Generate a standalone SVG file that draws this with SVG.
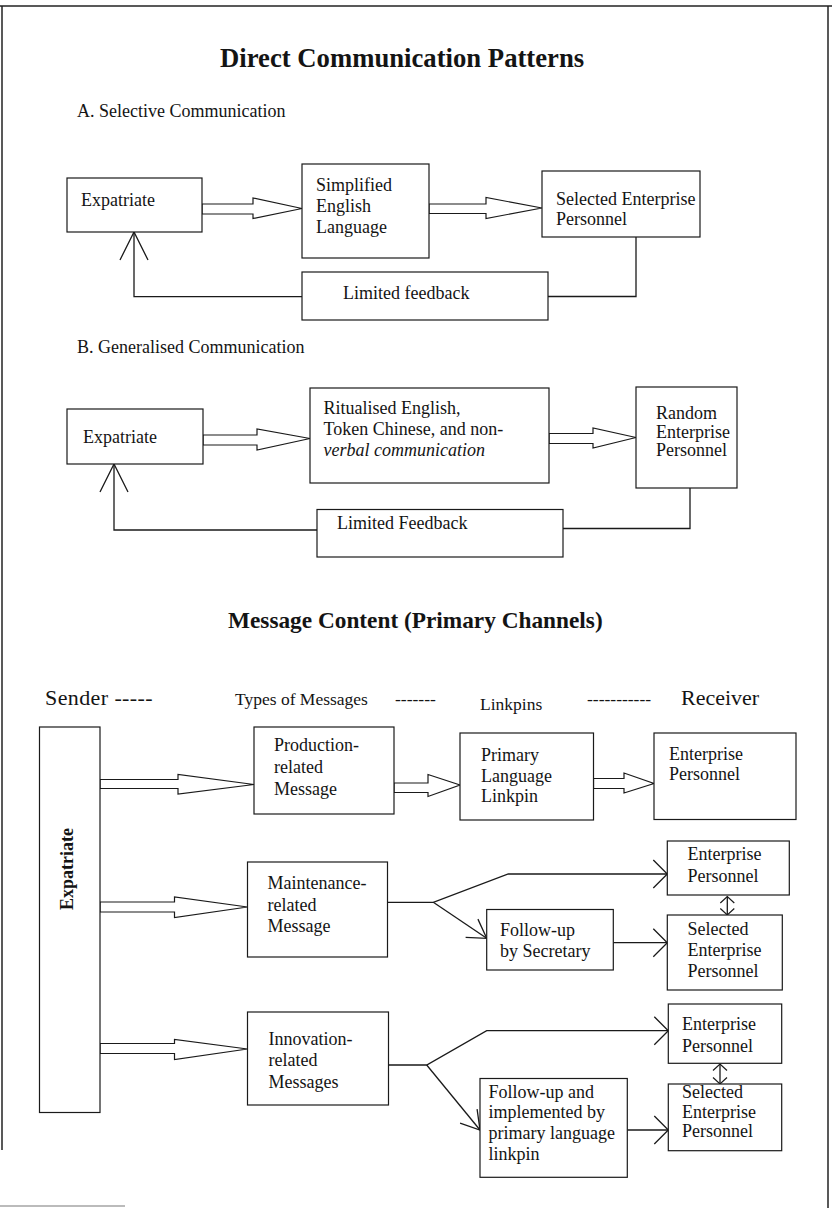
<svg xmlns="http://www.w3.org/2000/svg" width="832" height="1208" viewBox="0 0 832 1208">
<style>
  text { font-family: "Liberation Serif", "Times New Roman", serif; fill: #141414; }
  .t { font-size: 18px; }
  .h { font-size: 17.5px; }
  .big { font-size: 22px; }
  .title { font-weight: bold; }
  .box { fill: #fff; stroke: #1a1a1a; stroke-width: 1.2; }
  .blk { fill: #fff; stroke: #1a1a1a; stroke-width: 1.2; stroke-linejoin: miter; }
  .ln { fill: none; stroke: #1a1a1a; stroke-width: 1.3; }
  .frame { fill: none; stroke: #222; stroke-width: 1.5; }
</style>
<defs>
  <marker id="vh" viewBox="-32 -16 34 32" markerWidth="34" markerHeight="32" refX="0" refY="0" orient="auto" markerUnits="userSpaceOnUse">
    <path d="M-14,-14 L0,0 L-14,14" fill="none" stroke="#1a1a1a" stroke-width="1.3"/>
  </marker>
  <marker id="vn" viewBox="-32 -16 34 32" markerWidth="34" markerHeight="32" refX="0" refY="0" orient="auto" markerUnits="userSpaceOnUse">
    <path d="M-18,-11 L0,0 L-18,11" fill="none" stroke="#1a1a1a" stroke-width="1.3"/>
  </marker>
  <marker id="vl" viewBox="-32 -16 34 32" markerWidth="34" markerHeight="32" refX="0" refY="0" orient="auto" markerUnits="userSpaceOnUse">
    <path d="M-28,-14 L0,0 L-28,14" fill="none" stroke="#1a1a1a" stroke-width="1.3"/>
  </marker>
  <marker id="vs" viewBox="-10 -10 12 20" markerWidth="12" markerHeight="20" refX="0" refY="0" orient="auto-start-reverse" markerUnits="userSpaceOnUse">
    <path d="M-6.5,-7 L0,0 L-6.5,7" fill="none" stroke="#1a1a1a" stroke-width="1.2"/>
  </marker>
</defs>

<!-- page frame -->
<g id="frame">
  <path class="frame" d="M0,6 H832"/>
  <path class="frame" d="M2,6 V1150"/>
  <path class="frame" d="M828,6 V1208"/>
  <path d="M0,1206 H125" stroke="#bbb" stroke-width="2"/>
</g>

<!-- headings -->
<g id="headings">
  <text class="title" x="220" y="67" font-size="26.7">Direct Communication Patterns</text>
  <text class="t" x="77" y="117">A.  Selective Communication</text>
  <text class="t" x="77" y="353">B.  Generalised Communication</text>
  <text class="title" x="228" y="628" font-size="23.3">Message Content (Primary Channels)</text>
  <text class="big" x="45" y="705" letter-spacing="0.4">Sender -----</text>
  <text class="h" x="235" y="705">Types of Messages</text>
  <text class="h" x="395" y="705">-------</text>
  <text class="h" x="480" y="710">Linkpins</text>
  <text class="h" x="587" y="705">-----------</text>
  <text class="big" x="681" y="705">Receiver</text>
</g>

<!-- connectors -->
<g id="connectors">
  <!-- A -->
  <polygon class="blk" points="202,204 253,204 253,198 302,208.5 253,218.5 253,214 202,214"/>
  <polygon class="blk" points="429,204 486,204 486,197.5 542,208 486,218.5 486,213.5 429,213.5"/>
  <path class="ln" d="M636,237 V296.5 H548"/>
  <path class="ln" d="M302,296.7 H134 V232" marker-end="url(#vl)"/>
  <!-- B -->
  <polygon class="blk" points="203,435 257,435 257,429 310,438.5 257,450 257,445 203,445"/>
  <polygon class="blk" points="549,433.5 593,433.5 593,428 636,437.5 593,448 593,443.5 549,443.5"/>
  <path class="ln" d="M690,488 V528.5 H563"/>
  <path class="ln" d="M317,530 H114 V464" marker-end="url(#vl)"/>
  <!-- C -->
  <polygon class="blk" points="100,779.5 178,779.5 178,774.5 254,784.5 178,794 178,788.5 100,788.5"/>
  <polygon class="blk" points="394,783 428,783 428,774.5 460,785 428,796.5 428,792.5 394,792.5"/>
  <polygon class="blk" points="593.5,778.5 624,778.5 624,773 654,783.5 624,793 624,788.5 593.5,788.5"/>
  <polygon class="blk" points="100,902 174.5,902 174.5,897 247.5,907 174.5,917.5 174.5,912 100,912"/>
  <polygon class="blk" points="100,1043.5 174.5,1043.5 174.5,1039.5 247.5,1049 174.5,1059.5 174.5,1053.5 100,1053.5"/>
  <path class="ln" d="M387.5,902.3 H433.3 L508.3,874 H667.3" marker-end="url(#vh)"/>
  <path class="ln" d="M433.3,902.3 L486.7,938.3" marker-end="url(#vn)"/>
  <path class="ln" d="M613.3,942.7 H667.3" marker-end="url(#vh)"/>
  <path class="ln" d="M727.3,896.5 V915" marker-start="url(#vs)" marker-end="url(#vs)"/>
  <path class="ln" d="M388.5,1065 H426.7 L486.7,1030.7 H668.3" marker-end="url(#vh)"/>
  <path class="ln" d="M426.7,1065 L480,1130" marker-end="url(#vn)"/>
  <path class="ln" d="M627.3,1130 H668.3" marker-end="url(#vh)"/>
  <path class="ln" d="M720,1064 V1084" marker-start="url(#vs)" marker-end="url(#vs)"/>
</g>

<!-- Section A nodes -->
<g id="a-expatriate">
  <rect class="box" x="67" y="178" width="135" height="54"/>
  <text class="t" x="81" y="206">Expatriate</text>
</g>
<g id="a-simplified">
  <rect class="box" x="302" y="164" width="127" height="94"/>
  <text class="t" x="316" y="191">Simplified</text>
  <text class="t" x="316" y="212">English</text>
  <text class="t" x="316" y="233">Language</text>
</g>
<g id="a-selected">
  <rect class="box" x="542" y="171" width="158" height="66"/>
  <text class="t" x="556" y="205">Selected Enterprise</text>
  <text class="t" x="556" y="225">Personnel</text>
</g>
<g id="a-feedback">
  <rect class="box" x="302" y="272" width="246" height="48"/>
  <text class="t" x="343" y="299">Limited feedback</text>
</g>

<!-- Section B nodes -->
<g id="b-expatriate">
  <rect class="box" x="67" y="409" width="136" height="55"/>
  <text class="t" x="83" y="443">Expatriate</text>
</g>
<g id="b-ritualised">
  <rect class="box" x="310" y="388" width="239" height="95"/>
  <text class="t" x="323.5" y="414">Ritualised English,</text>
  <text class="t" x="323.5" y="435">Token Chinese, and non-</text>
  <text class="t" x="323.5" y="456" font-style="italic">verbal communication</text>
</g>
<g id="b-random">
  <rect class="box" x="636" y="387" width="101" height="101"/>
  <text class="t" x="656" y="419">Random</text>
  <text class="t" x="656" y="437.5">Enterprise</text>
  <text class="t" x="656" y="456">Personnel</text>
</g>
<g id="b-feedback">
  <rect class="box" x="317" y="509.5" width="246" height="47.5"/>
  <text class="t" x="337" y="529">Limited Feedback</text>
</g>

<!-- Section C nodes -->
<g id="c-expatriate">
  <rect class="box" x="39.5" y="727" width="60.5" height="385.5"/>
  <text class="t title" transform="translate(73,869) rotate(-90)" text-anchor="middle">Expatriate</text>
</g>
<g id="c-production">
  <rect class="box" x="254" y="727" width="140" height="87"/>
  <text class="t" x="274" y="751">Production-</text>
  <text class="t" x="274" y="773">related</text>
  <text class="t" x="274" y="795">Message</text>
</g>
<g id="c-primary">
  <rect class="box" x="460" y="733" width="133.5" height="87"/>
  <text class="t" x="481" y="761">Primary</text>
  <text class="t" x="481" y="782">Language</text>
  <text class="t" x="481" y="802">Linkpin</text>
</g>
<g id="c-enterprise1">
  <rect class="box" x="654" y="733" width="142" height="86.5"/>
  <text class="t" x="669" y="760">Enterprise</text>
  <text class="t" x="669" y="780">Personnel</text>
</g>
<g id="c-maintenance">
  <rect class="box" x="247.5" y="862" width="140" height="95"/>
  <text class="t" x="267.5" y="888.5">Maintenance-</text>
  <text class="t" x="267.5" y="910.5">related</text>
  <text class="t" x="267.5" y="932">Message</text>
</g>
<g id="c-enterprise2">
  <rect class="box" x="667.3" y="841" width="122" height="54"/>
  <text class="t" x="687.5" y="860">Enterprise</text>
  <text class="t" x="687.5" y="882">Personnel</text>
</g>
<g id="c-secretary">
  <rect class="box" x="486.7" y="909.5" width="126.6" height="60.5"/>
  <text class="t" x="500" y="936">Follow-up</text>
  <text class="t" x="500" y="957">by Secretary</text>
</g>
<g id="c-selected2">
  <rect class="box" x="667.3" y="915" width="115" height="75"/>
  <text class="t" x="687.5" y="935">Selected</text>
  <text class="t" x="687.5" y="956">Enterprise</text>
  <text class="t" x="687.5" y="977">Personnel</text>
</g>
<g id="c-innovation">
  <rect class="box" x="247.5" y="1012" width="141" height="93"/>
  <text class="t" x="268.5" y="1045">Innovation-</text>
  <text class="t" x="268.5" y="1066">related</text>
  <text class="t" x="268.5" y="1088">Messages</text>
</g>
<g id="c-enterprise3">
  <rect class="box" x="668.3" y="1004" width="113.4" height="59.3"/>
  <text class="t" x="682" y="1030">Enterprise</text>
  <text class="t" x="682" y="1052">Personnel</text>
</g>
<g id="c-implemented">
  <rect class="box" x="480" y="1078.5" width="147.3" height="98.8"/>
  <text class="t" x="488.5" y="1097.5">Follow-up and</text>
  <text class="t" x="488.5" y="1117.5">implemented by</text>
  <text class="t" x="488.5" y="1138.5">primary language</text>
  <text class="t" x="488.5" y="1160">linkpin</text>
</g>
<g id="c-selected3">
  <rect class="box" x="668.3" y="1084" width="113.4" height="66.7" fill="none"/>
  <text class="t" x="682" y="1098">Selected</text>
  <text class="t" x="682" y="1118">Enterprise</text>
  <text class="t" x="682" y="1137">Personnel</text>
</g>
</svg>
